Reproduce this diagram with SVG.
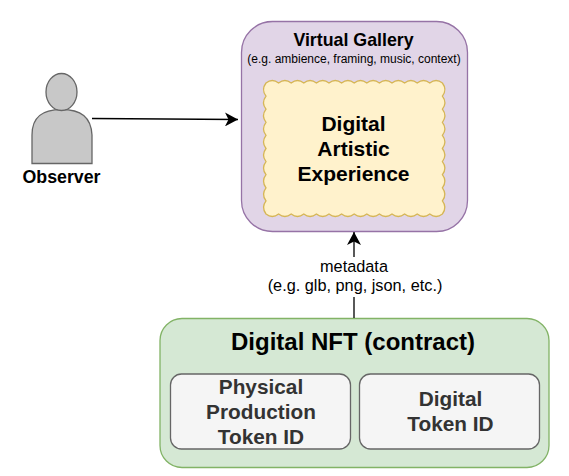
<svg xmlns="http://www.w3.org/2000/svg" width="569" height="476" viewBox="0 0 569 476">
<defs>
<style>
text{font-family:"Liberation Sans",Arial,sans-serif;text-anchor:middle;fill:#000}
.b{font-weight:bold}
.token{fill:#f5f5f5;stroke:#666;stroke-width:1.3}
.tt{fill:#333;font-weight:bold;font-size:20.800px}
.conn{fill:none;stroke:#000;stroke-width:1.3}
</style>
<marker id="arrow" markerUnits="userSpaceOnUse" markerWidth="14" markerHeight="14" refX="13" refY="7" orient="auto"><path d="M0 0L13 7L0 14L3.500 7Z" fill="#000"/></marker>
</defs>
<rect width="569" height="476" fill="#fff"/>
<g id="observer">
<path d="M32 163.500V135C32 117 42 109.500 61.500 109.500C81 109.500 91 117 92 135V163.500Z" fill="#c8c8c8" stroke="#666" stroke-width="1.300"/>
<ellipse cx="61.500" cy="92" rx="15.500" ry="18.500" fill="#c8c8c8" stroke="#666" stroke-width="1.300"/>
<text class="b" x="61.500" y="183" font-size="17.800">Observer</text>
</g>
<g id="virtual-gallery">
<rect x="241.500" y="21.500" width="226" height="210" rx="31" fill="#e1d5e7" stroke="#9673a6" stroke-width="1.300"/>
<text class="b" x="353.500" y="46" font-size="17.800">Virtual Gallery</text>
<text x="354" y="63" font-size="12">(e.g. ambience, framing, music, context)</text>
</g>
<g id="digital-artistic-experience">
<path d="M266 83q6.300 -5 12.600 0q6.300 -5 12.600 0q6.300 -5 12.600 0q6.300 -5 12.600 0q6.300 -5 12.600 0q6.300 -5 12.600 0q6.300 -5 12.600 0q6.300 -5 12.600 0q6.300 -5 12.600 0q6.300 -5 12.600 0q6.300 -5 12.600 0q6.300 -5 12.600 0q6.300 -5 12.600 0q6.300 -5 12.600 0q5 6.550 0 13.100q5 6.550 0 13.100q5 6.550 0 13.100q5 6.550 0 13.100q5 6.550 0 13.100q5 6.550 0 13.100q5 6.550 0 13.100q5 6.550 0 13.100q5 6.550 0 13.100q5 6.550 0 13.100q-6.300 5 -12.600 0q-6.300 5 -12.600 0q-6.300 5 -12.600 0q-6.300 5 -12.600 0q-6.300 5 -12.600 0q-6.300 5 -12.600 0q-6.300 5 -12.600 0q-6.300 5 -12.600 0q-6.300 5 -12.600 0q-6.300 5 -12.600 0q-6.300 5 -12.600 0q-6.300 5 -12.600 0q-6.300 5 -12.600 0q-6.300 5 -12.600 0q-5 -6.550 0 -13.100q-5 -6.550 0 -13.100q-5 -6.550 0 -13.100q-5 -6.550 0 -13.100q-5 -6.550 0 -13.100q-5 -6.550 0 -13.100q-5 -6.550 0 -13.100q-5 -6.550 0 -13.100q-5 -6.550 0 -13.100q-5 -6.550 0 -13.100Z" fill="#fff2cc" stroke="#d6b656" stroke-width="1.300"/>
<text class="b" font-size="21"><tspan x="353.500" y="131">Digital</tspan><tspan x="353.500" y="156">Artistic</tspan><tspan x="353.500" y="181">Experience</tspan></text>
</g>
<g id="digital-nft">
<rect x="160" y="318.500" width="389" height="149" rx="22" fill="#d5e8d4" stroke="#82b366" stroke-width="1.300"/>
<text class="b" x="353" y="350" font-size="24">Digital NFT (contract)</text>
</g>
<g id="physical-token">
<rect class="token" x="170.500" y="374" width="180" height="75" rx="11"/>
<text class="tt"><tspan x="261" y="394">Physical</tspan><tspan x="261" y="419">Production</tspan><tspan x="261" y="444">Token ID</tspan></text>
</g>
<g id="digital-token">
<rect class="token" x="359.500" y="374" width="180" height="75" rx="11"/>
<text class="tt"><tspan x="450.500" y="406">Digital</tspan><tspan x="450.500" y="431">Token ID</tspan></text>
</g>
<g id="connectors">
<path class="conn" d="M92 118.500L238 119.500" marker-end="url(#arrow)"/>
<path class="conn" d="M354 318V297M354 257V232" marker-end="url(#arrow)"/>
<text x="354" y="272" font-size="16.300">metadata</text>
<text x="355" y="291" font-size="16.300">(e.g. glb, png, json, etc.)</text>
</g>
</svg>
